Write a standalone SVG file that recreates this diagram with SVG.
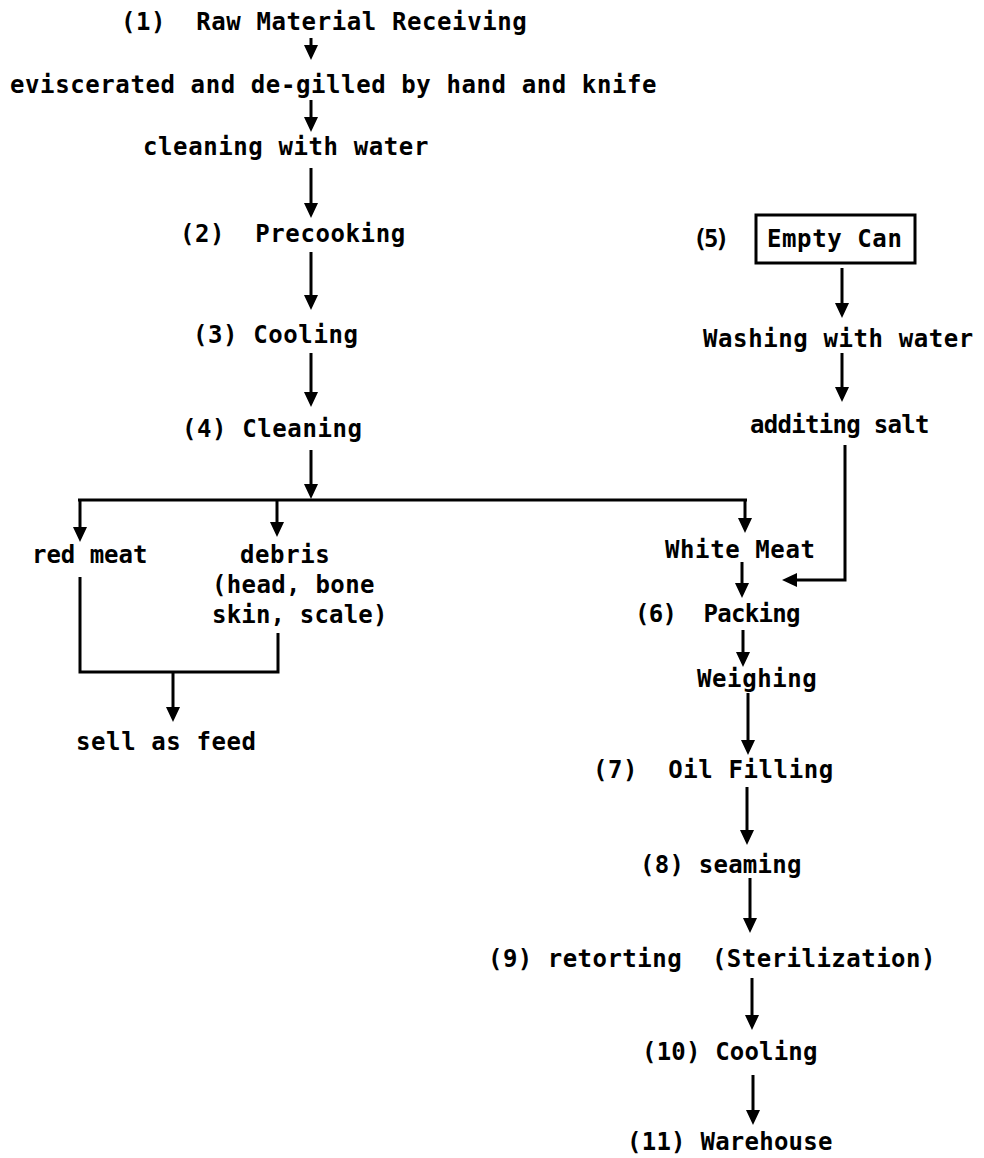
<svg xmlns="http://www.w3.org/2000/svg" width="984" height="1158" viewBox="0 0 984 1158" xml:space="preserve">
<defs>
<style>
.t{font-family:"DejaVu Sans Mono","Liberation Mono",monospace;font-weight:bold;font-size:24px;letter-spacing:0.6px;fill:#000;white-space:pre}
.c{fill:none;stroke:#000;stroke-width:3}
.a{marker-end:url(#ah)}
</style>
<marker id="ah" viewBox="0 0 15 14" refX="11" refY="7" markerWidth="15" markerHeight="14" markerUnits="userSpaceOnUse" orient="auto"><path d="M0,0 L15,7 L0,14 z" fill="#000"/></marker>
</defs>
<rect width="984" height="1158" fill="#fff"/>
<g id="n1"><text class="t" x="121" y="30">(1)  Raw Material Receiving</text></g>
<g id="n1a"><text class="t" x="10" y="93">eviscerated and de-gilled by hand and knife</text></g>
<g id="n1b"><text class="t" x="143" y="155">cleaning with water</text></g>
<g id="n2"><text class="t" x="180" y="242">(2)  Precooking</text></g>
<g id="n3"><text class="t" x="193" y="343">(3) Cooling</text></g>
<g id="n4"><text class="t" x="182" y="437">(4) Cleaning</text></g>
<g id="nred"><text class="t" x="32" y="563" textLength="116">red meat</text></g>
<g id="ndebris"><text class="t" x="240" y="563">debris</text><text class="t" x="212" y="593" textLength="163">(head, bone</text><text class="t" x="212" y="623" textLength="176">skin, scale)</text></g>
<g id="nfeed"><text class="t" x="76" y="750">sell as feed</text></g>
<g id="n5"><text class="t" x="693" y="247" textLength="37">(5)</text><rect x="756" y="215" width="159" height="48" fill="none" stroke="#000" stroke-width="3"/><text class="t" x="767" y="247">Empty Can</text></g>
<g id="n5a"><text class="t" x="703" y="347">Washing with water</text></g>
<g id="n5b"><text class="t" x="750" y="433" textLength="180">additing salt</text></g>
<g id="nwhite"><text class="t" x="665" y="558">White Meat</text></g>
<g id="n6"><text class="t" x="635" y="622" textLength="166">(6)  Packing</text></g>
<g id="n6a"><text class="t" x="697" y="687">Weighing</text></g>
<g id="n7"><text class="t" x="593" y="778">(7)  Oil Filling</text></g>
<g id="n8"><text class="t" x="640" y="873" textLength="162">(8) seaming</text></g>
<g id="n9"><text class="t" x="488" y="967" textLength="448">(9) retorting  (Sterilization)</text></g>
<g id="n10"><text class="t" x="642" y="1060" textLength="176">(10) Cooling</text></g>
<g id="n11"><text class="t" x="627" y="1150" textLength="206">(11) Warehouse</text></g>
<g id="connectors">
<path class="c a" d="M311,38 V56"/>
<path class="c a" d="M311,100 V128"/>
<path class="c a" d="M311,168 V214"/>
<path class="c a" d="M311,252 V306"/>
<path class="c a" d="M311,353 V403"/>
<path class="c a" d="M311,450 V495"/>
<path class="c" d="M78,500 H747"/>
<path class="c a" d="M80,500 V538"/>
<path class="c a" d="M277,500 V533"/>
<path class="c a" d="M745,500 V529"/>
<path class="c" d="M80,577 V672 H278 V633"/>
<path class="c a" d="M173,672 V718"/>
<path class="c a" d="M842,268 V314"/>
<path class="c a" d="M842,353 V398"/>
<path class="c a" d="M845,445 V580 H786"/>
<path class="c a" d="M742,562 V594"/>
<path class="c a" d="M743,630 V663"/>
<path class="c a" d="M748,693 V751"/>
<path class="c a" d="M747,787 V841"/>
<path class="c a" d="M750,878 V929"/>
<path class="c a" d="M752,978 V1026"/>
<path class="c a" d="M753,1075 V1121"/>
</g>
</svg>
